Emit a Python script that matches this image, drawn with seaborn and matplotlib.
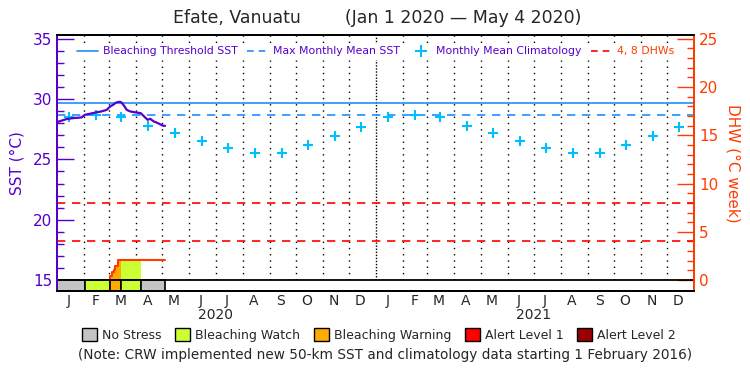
import numpy as np
import pandas as pd
import seaborn as sns
import matplotlib.pyplot as plt
import matplotlib.transforms as mtransforms
from matplotlib.lines import Line2D
from matplotlib.patches import Patch

sst_dates = ["2020-01-01", "2020-01-06", "2020-01-12", "2020-01-20", "2020-01-29",
             "2020-02-02", "2020-02-08", "2020-02-14", "2020-02-21", "2020-02-27",
             "2020-03-02", "2020-03-06", "2020-03-09", "2020-03-13", "2020-03-15",
             "2020-03-18", "2020-03-21", "2020-03-25", "2020-04-01", "2020-04-06",
             "2020-04-10", "2020-04-14", "2020-04-17", "2020-04-21", "2020-04-24",
             "2020-04-28", "2020-05-02", "2020-05-04"]
sst_values = [28.09, 28.20, 28.34, 28.42, 28.47,
              28.69, 28.78, 28.88, 28.97, 29.10,
              29.38, 29.55, 29.71, 29.77, 29.71,
              29.44, 29.10, 28.97, 28.88, 28.83,
              28.55, 28.28, 28.36, 28.14, 28.06,
              27.92, 27.78, 27.78]

mmm_sst = 28.67
threshold_sst = 29.67

# monthly mean climatology (plotted on the 15th of each month, both years)
clim_years = [2020, 2021]
clim_values = [28.47, 28.67, 28.47, 27.73, 27.18, 26.49,
               25.94, 25.53, 25.53, 26.20, 26.90, 27.64]

# degree heating weeks
dhw_dates = ["2020-03-01", "2020-03-02", "2020-03-04", "2020-03-06",
             "2020-03-08", "2020-03-11", "2020-05-04"]
dhw_values = [0.0, 0.45, 0.80, 1.10, 1.45, 2.10, 2.10]
dhw_levels = [4, 8]

# bleaching alert periods
stress_starts = ["2020-01-01", "2020-02-02", "2020-03-02", "2020-03-15", "2020-04-06"]
stress_ends = ["2020-02-02", "2020-03-02", "2020-03-15", "2020-04-06", "2020-05-04"]
stress_levels = ["No Stress", "Bleaching Watch", "Bleaching Warning",
                 "Bleaching Watch", "No Stress"]

stress_colors = {"No Stress": "#c4c4c4", "Bleaching Watch": "#ccff33",
                 "Bleaching Warning": "#ffaa00", "Alert Level 1": "#ff0000",
                 "Alert Level 2": "#990000"}

month_letters = list("JFMAMJJASOND") * 2
year_labels = ["2020", "2021"]

purple = "#5500cc"
orange = "#ff3c00"
blue = "#1e90ff"
cyan = "#00bfff"

sns.set_style("white")
plt.rcParams["font.family"] = ["DejaVu Sans"]

fig = plt.figure(figsize=(7.5, 3.75), dpi=100)
ax = fig.add_axes([57 / 750, 1 - 291 / 375, 637 / 750, 256 / 375])
ax2 = ax.twinx()

sst_lo, sst_hi = 14.1, 35.3
ax.set_ylim(sst_lo, sst_hi)
ax2.set_ylim((sst_lo - 15) * 1.25, (sst_hi - 15) * 1.25)
x0, x1 = pd.Timestamp("2020-01-01"), pd.Timestamp("2022-01-01")
ax.set_xlim(x0, x1)

# month grid lines
month_starts = pd.date_range("2020-02-01", "2021-12-01", freq="MS")
gfrac = (15 - sst_lo) / (sst_hi - sst_lo)
for d in month_starts:
    ls = (0, (1, 1.2)) if d.month == 1 else (0, (1, 3.5))
    ax.axvline(d, ymin=gfrac, ymax=1, color="black", lw=1, ls=ls, zorder=1)

# threshold and MMM
ax.axhline(threshold_sst, color=blue, lw=1.2, zorder=2)
ax.axhline(mmm_sst, color=blue, lw=1.2, ls=(0, (5, 4)), zorder=2)

# climatology crosses
clim_df = pd.DataFrame({
    "date": [pd.Timestamp(y, m, 15) for y in clim_years for m in range(1, 13)],
    "sst": clim_values * len(clim_years),
})
sns.scatterplot(data=clim_df, x="date", y="sst", marker="+", s=55, color=cyan,
                linewidth=1.5, ax=ax, zorder=3)

# SST line
sns.lineplot(x=pd.to_datetime(sst_dates), y=sst_values, ax=ax, color=purple,
             lw=1.6, zorder=4)

# DHW
for lvl in dhw_levels:
    ax2.axhline(lvl, color="red", lw=1.2, ls=(0, (5, 4)))
dhw = pd.Series(dhw_values, index=pd.to_datetime(dhw_dates))
for s, e, lvl in zip(pd.to_datetime(stress_starts), pd.to_datetime(stress_ends), stress_levels):
    if lvl == "No Stress":
        continue
    inner = dhw.index[(dhw.index > s) & (dhw.index < e)]
    pts = pd.DatetimeIndex([s]).append(inner).append(pd.DatetimeIndex([e]))
    vals = dhw.asof(pts).fillna(0)
    ax2.fill_between(pts, 0, vals.values, step="post", color=stress_colors[lvl], lw=0)
ax2.plot(dhw.index, dhw.values, drawstyle="steps-post", color=orange, lw=1.5)

# stress bar
bar_lo = (sst_lo - 15) * 1.25
for s, e, lvl in zip(pd.to_datetime(stress_starts), pd.to_datetime(stress_ends), stress_levels):
    ax2.bar(s, -bar_lo, bottom=bar_lo, width=(e - s).days, align="edge",
            color=stress_colors[lvl], edgecolor="black", lw=1.2)
ax2.axhline(0, color="black", lw=1.3)

# axes styling
ax.set_yticks(range(15, 36, 5))
ax.set_yticks(range(15, 36), minor=True)
ax.tick_params(axis="y", which="major", direction="in", length=12, width=1,
               colors=purple, labelsize=11)
ax.tick_params(axis="y", which="minor", direction="in", length=5, width=1, colors=purple)
ax.set_ylabel("SST (°C)", color=purple, fontsize=11, labelpad=6)

ax2.set_yticks(range(0, 26, 5))
ax2.set_yticks(range(0, 26), minor=True)
ax2.tick_params(axis="y", which="major", direction="in", length=12, width=1,
                colors=orange, labelsize=11)
ax2.tick_params(axis="y", which="minor", direction="in", length=5, width=1, colors=orange)
ax2.set_ylabel("DHW (°C week)", color=orange, fontsize=11, rotation=270, labelpad=16)

for a in (ax, ax2):
    a.spines["left"].set_color(purple)
    a.spines["right"].set_color(orange)
    a.spines["top"].set_color("black")
    a.spines["bottom"].set_color("black")
    for sp in a.spines.values():
        sp.set_linewidth(1.3)

month_mids = pd.date_range("2020-01-01", periods=24, freq="MS") + pd.Timedelta(days=13)
ax.set_xticks(month_mids)
ax.set_xticklabels(month_letters, fontsize=10)
ax.tick_params(axis="x", length=0, pad=2)
ax.set_xlabel("")
trans = mtransforms.blended_transform_factory(ax.transData, ax.transAxes)
for yl in year_labels:
    mid = pd.Timestamp(f"{yl}-07-01")
    ax.text(mid, -0.095, yl, transform=trans, ha="center", va="center", fontsize=10)

# legend inside the plot
handles = [
    Line2D([], [], color=blue, lw=1.2, label="Bleaching Threshold SST"),
    Line2D([], [], color=blue, lw=1.2, ls=(0, (4, 3)), label="Max Monthly Mean SST"),
    Line2D([], [], color=cyan, marker="+", ls="none", ms=8, mew=1.5,
           label="Monthly Mean Climatology"),
    Line2D([], [], color="red", lw=1.2, ls=(0, (4, 3)), label="4, 8 DHWs"),
]
leg = ax2.legend(handles=handles, loc="upper center", bbox_to_anchor=(0.5, 0.985),
                 ncol=4, fontsize=7.8, frameon=True, facecolor="white",
                 edgecolor="white", framealpha=1, handlelength=2.0,
                 handletextpad=0.4, columnspacing=0.9, borderpad=0.2,
                 labelcolor=[purple, purple, purple, orange])

# bottom legend
stress_handles = [Patch(facecolor=c, edgecolor="black", label=k)
                  for k, c in stress_colors.items()]
fig.legend(handles=stress_handles, loc="center", bbox_to_anchor=(0.505, 0.107),
           ncol=5, fontsize=9, frameon=False, handlelength=1.2, handleheight=1.2,
           handletextpad=0.4, columnspacing=1.1)

fig.text(0.503, 0.952, "Efate, Vanuatu        (Jan 1 2020 \u2014 May 4 2020)",
         ha="center", va="center", fontsize=12.5)
fig.text(0.513, 0.053, "(Note: CRW implemented new 50-km SST and climatology data "
         "starting 1 February 2016)", ha="center", va="center", fontsize=9.8)

fig.savefig("out.png", dpi=100)
